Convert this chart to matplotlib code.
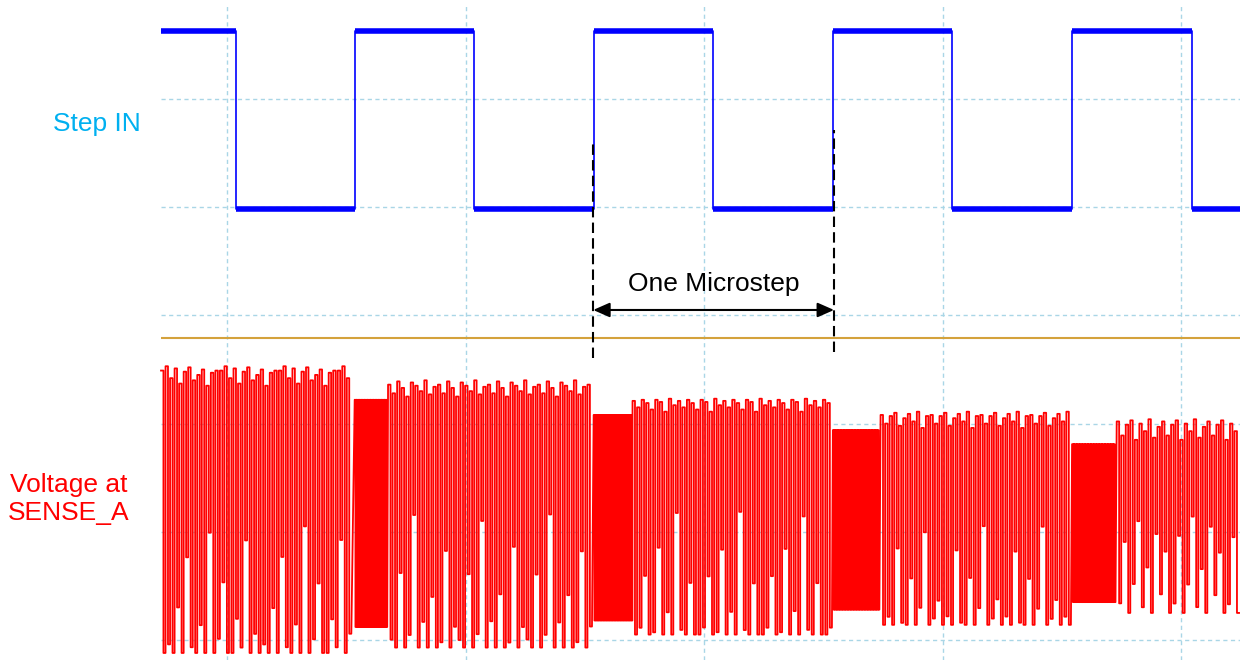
import numpy as np
import matplotlib.pyplot as plt

plt.rcParams['path.simplify'] = False

# scope screen: time in divisions (x), volts in divisions (y)
t_start, t_end = -0.277, 4.247

# Step IN trace: edge times, starts high
step_edges = [0.038, 0.535, 1.037, 1.539, 2.038, 2.540, 3.040, 3.543, 4.046]
step_high = 5.63
step_low = 3.98

# reference (orange) trace level
ref_level = 2.79

# SENSE_A trace, split in segments after every rising edge of Step IN
seg_start = [-0.277, 0.535, 0.675, 1.537, 1.700, 2.540, 2.740, 3.543, 3.730]
seg_end = [0.535, 0.675, 1.537, 1.700, 2.540, 2.740, 3.543, 3.730, 4.247]
seg_dense = [False, True, False, True, False, True, False, True, False]
seg_top = [2.45, 2.22, 2.33, 2.08, 2.19, 1.94, 2.05, 1.81, 1.97]
seg_bottom = [-0.12, 0.12, -0.07, 0.18, 0.05, 0.28, 0.14, 0.35, 0.25]

# dip depth (fraction of full swing) and top offsets read for the sparse parts
dip_A = [1.0, 0.97, 1.0, 0.84, 1.0, 0.66, 0.98, 1.0, 0.9, 1.0, 0.55, 1.0, 0.95, 0.75, 1.0, 1.0, 0.88, 0.98, 0.6, 1.0, 0.93]
dip_B = [0.97, 1.0, 0.72, 1.0, 0.95, 0.5, 1.0, 0.9, 1.0, 0.8, 1.0, 0.98, 0.62, 1.0, 0.92]
dip_C = [1.0, 0.97, 0.75, 1.0, 0.99, 0.63, 1.0, 0.9, 1.0, 0.47, 0.98, 1.0, 0.78, 1.0]
dip_D = [1.0, 0.96, 1.0, 0.64, 0.99, 1.0, 0.78, 1.0, 0.92, 0.53, 1.0, 0.97, 0.88]
dip_E = [0.95, 0.6, 1.0, 0.85, 0.47, 0.97, 0.75, 1.0, 0.55, 0.9, 0.68, 1.0]
top_A = [0.04, 0.08, -0.03, 0.06, -0.08, 0.03, 0.07, -0.05, 0.0, 0.05, -0.1, 0.02, 0.04]
top_B = [0.03, -0.05, 0.06, 0.0, -0.08, 0.05, 0.02, -0.03, 0.07, -0.06, 0.01]
top_C = [0.02, -0.04, 0.03, 0.0, -0.06, 0.03, 0.01, -0.08, 0.04, -0.02]
top_D = [0.03, -0.05, 0.02, 0.05, -0.07, 0.0, 0.04, -0.03, 0.06, -0.09, 0.02]
top_E = [0.05, -0.08, 0.02, 0.06, -0.12, 0.03, -0.04, 0.07, -0.1, 0.0]
sparse_dips = [dip_A, dip_B, dip_C, dip_D, dip_E]
sparse_tops = [top_A, top_B, top_C, top_D, top_E]

sparse_period = 0.019
dense_period = 0.0065
low_share = 0.46   # part of each sparse period spent at the dip


def step_trace():
    t = [t_start]
    v = [step_high]
    level = step_high
    for e in step_edges:
        other = step_low if level == step_high else step_high
        t += [e, e]
        v += [level, other]
        level = other
    t.append(t_end)
    v.append(level)
    return np.array(t), np.array(v)


def sense_trace():
    t, v = [], []
    k_sparse = 0
    for k in range(len(seg_start)):
        top, bot = seg_top[k], seg_bottom[k]
        if seg_dense[k]:
            p = dense_period
            n = int((seg_end[k] - seg_start[k]) / p)
            for i in range(n):
                t0 = seg_start[k] + i * p
                t += [t0, t0 + 0.5 * p, t0 + 0.5 * p, t0 + p]
                v += [top, top, bot, bot]
        else:
            p = sparse_period
            dips = sparse_dips[k_sparse]
            tops = sparse_tops[k_sparse]
            k_sparse += 1
            n = int((seg_end[k] - seg_start[k]) / p)
            for i in range(n):
                t0 = seg_start[k] + i * p
                hi = top + tops[i % len(tops)]
                lo = hi - dips[i % len(dips)] * (hi - bot)
                t += [t0, t0 + (1 - low_share) * p, t0 + (1 - low_share) * p, t0 + p]
                v += [hi, hi, lo, lo]
    return np.array(t), np.array(v)


fig = plt.figure(figsize=(12.4, 6.63), dpi=100)
ax = fig.add_axes([161 / 1240, 3 / 663, 1079 / 1240, 656 / 663])
ax.set_xlim(t_start, t_end)
ax.set_ylim(-0.185, 5.878)

ax.set_xticks([0, 1, 2, 3, 4])
ax.set_yticks([0, 1, 2, 3, 4, 5])
ax.grid(True, color='#a9d6e6', linestyle=(0, (3, 2.5)), linewidth=1.0)
ax.set_axisbelow(True)
ax.tick_params(length=0, labelbottom=False, labelleft=False)
for s in ax.spines.values():
    s.set_visible(False)

# Step IN
st, sv = step_trace()
ax.plot(st, sv, color='#0000ff', lw=1.2, zorder=3)
for i in range(0, len(st) - 1, 2):
    ax.hlines(sv[i], st[i], st[i + 1], color='#0000ff', lw=4.0, zorder=3)

# reference trace
ax.axhline(ref_level, color='#d4a23c', lw=1.5, zorder=2)

# SENSE_A
rt, rv = sense_trace()
ax.plot(rt, rv, color='#ff0000', lw=1.3, zorder=3, clip_on=False)

# microstep markers
x_a, x_b = 1.535, 2.545
ax.plot([x_a, x_a], [2.606, 4.621], color='black', lw=1.5, ls=(0, (5, 2.5)), zorder=4)
ax.plot([x_b, x_b], [2.662, 4.713], color='black', lw=1.5, ls=(0, (5, 2.5)), zorder=4)
ax.annotate('', xy=(x_b, 3.05), xytext=(x_a, 3.05),
            arrowprops=dict(arrowstyle='<|-|>,head_length=0.5,head_width=0.22',
                            color='black', lw=1.5, mutation_scale=20,
                            shrinkA=0, shrinkB=0), zorder=4)
ax.text((x_a + x_b) / 2, 3.29, 'One Microstep', ha='center', va='center',
        fontsize=19, family='Liberation Sans', color='black')

fig.text(97 / 1240, 1 - 124 / 663, 'Step IN', ha='center', va='center',
         fontsize=19, family='Liberation Sans', color='#00b0f0')
fig.text(69 / 1240, 1 - 499 / 663, 'Voltage at\nSENSE_A', ha='center', va='center',
         fontsize=19, family='Liberation Sans', color='#ff0000', linespacing=1.2)

fig.savefig('out.png', dpi=100)
